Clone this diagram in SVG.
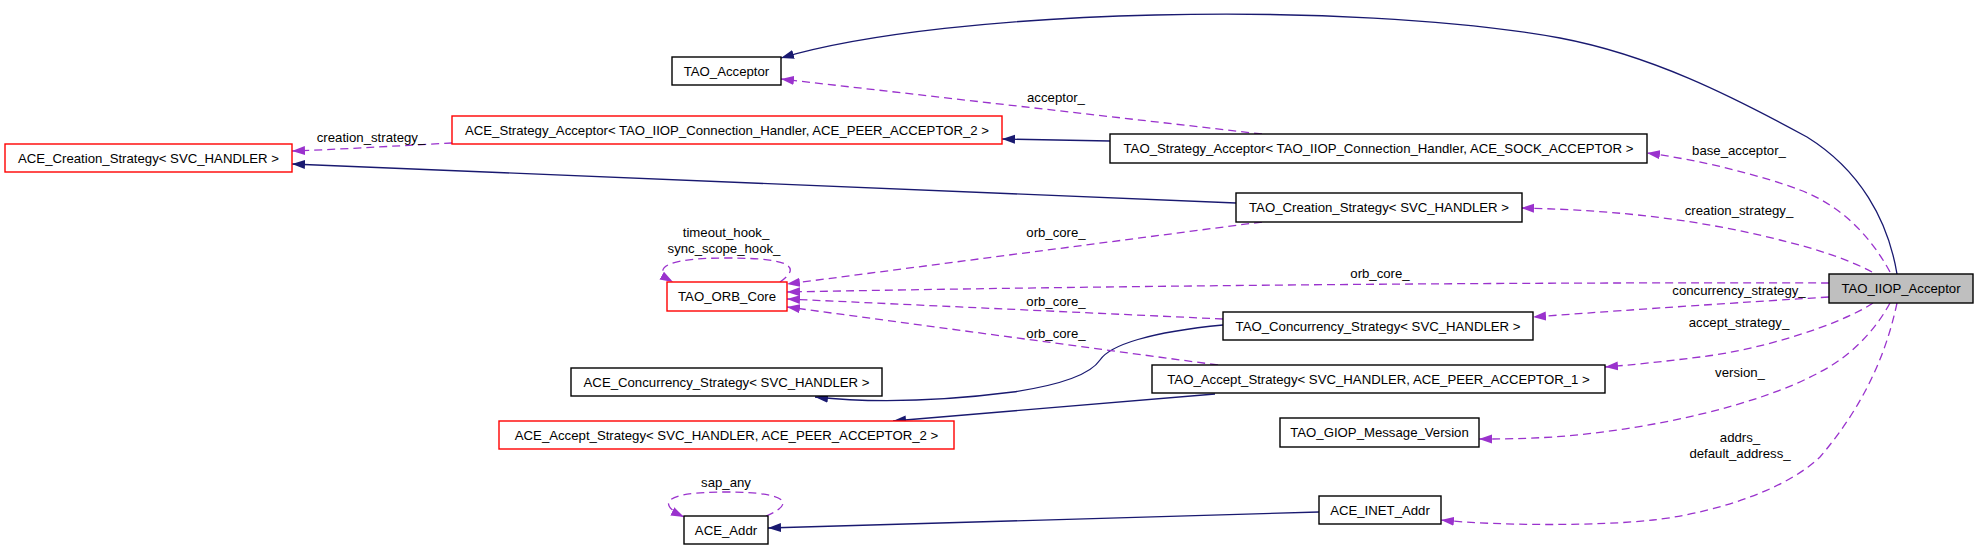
<svg xmlns="http://www.w3.org/2000/svg" width="1979" height="550" viewBox="0 0 1979 550">
<style>
  .box { fill: #ffffff; stroke: #000000; stroke-width: 1.4; }
  .red { fill: #ffffff; stroke: #ff0000; stroke-width: 1.4; }
  .gray { fill: #bfbfbf; stroke: #000000; stroke-width: 1.4; }
  text { font-family: "Liberation Sans", Arial, sans-serif; font-size: 13.2px; fill: #000000; text-anchor: middle; }
  .inh { fill: none; stroke: #191970; stroke-width: 1.3; marker-end: url(#an); }
  .use { fill: none; stroke: #9a32cd; stroke-width: 1.3; stroke-dasharray: 8,5; marker-end: url(#ap); }
</style>
<defs>
  <marker id="an" markerWidth="14" markerHeight="10" refX="13" refY="5" orient="auto" markerUnits="userSpaceOnUse">
    <path d="M0,0.5 L13,5 L0,9.5 z" fill="#191970"/>
  </marker>
  <marker id="ap" markerWidth="14" markerHeight="10" refX="13" refY="5" orient="auto" markerUnits="userSpaceOnUse">
    <path d="M0,0.5 L13,5 L0,9.5 z" fill="#9a32cd"/>
  </marker>
</defs>
<rect width="1979" height="550" fill="#ffffff"/>

<g id="connectors">
  <!-- inheritance -->
  <path class="inh" d="M1897,274 C1888,220 1860,170 1807,137 C1730,95 1650,55 1560,38 C1350,0 950,8 781,58"/>
  <path class="inh" d="M1110,141 L1002,139"/>
  <path class="inh" d="M1236,203 L292,164"/>
  <path class="inh" d="M1223,325 C1150,332 1110,345 1100,360 C1090,375 1060,385 1013,392 C950,400 880,404 815,397"/>
  <path class="inh" d="M1215,394 L893,421"/>
  <path class="inh" d="M1319,512 L768,528"/>
  <!-- usage -->
  <path class="use" d="M1262,134 L781,79"/>
  <path class="use" d="M452,143 C410,145 350,149 292,151"/>
  <path class="use" d="M1890,272 C1870,235 1840,205 1800,190 C1760,175 1700,160 1647,153"/>
  <path class="use" d="M1872,272 C1840,255 1800,245 1780,240 C1700,220 1620,210 1521,208"/>
  <path class="use" d="M1262,222 L787,284"/>
  <path class="use" d="M1829,283 C1500,282 1100,286 787,292"/>
  <path class="use" d="M1223,319 L787,299"/>
  <path class="use" d="M1218,365 L787,307"/>
  <path class="use" d="M1829,297 C1700,305 1600,312 1533,317"/>
  <path class="use" d="M1873,303 C1840,325 1760,350 1700,357 C1660,362 1630,365 1605,367"/>
  <path class="use" d="M1890,303 C1870,340 1840,362 1820,372 C1760,405 1650,430 1553,437 C1520,439 1500,439 1479,439"/>
  <path class="use" d="M1897,303 C1885,360 1860,410 1820,457 C1780,495 1700,515 1653,520 C1600,526 1500,526 1441,520"/>
  <path class="use" d="M780,282 C800,268 795,258 727,258 C660,258 652,270 673,282"/>
  <path class="use" d="M766,516 C795,504 790,492 726,492 C662,492 657,504 684,517"/>
  <!-- labels -->
  <text x="1056" y="101.5">acceptor_</text>
  <text x="371" y="141.5">creation_strategy_</text>
  <text x="1739" y="154.5">base_acceptor_</text>
  <text x="1739" y="214.5">creation_strategy_</text>
  <text x="1056" y="236.5">orb_core_</text>
  <text x="726" y="236.5">timeout_hook_</text>
  <text x="724" y="252.5">sync_scope_hook_</text>
  <text x="1380" y="277.5">orb_core_</text>
  <text x="1739" y="294.5">concurrency_strategy_</text>
  <text x="1056" y="305.5">orb_core_</text>
  <text x="1739" y="326.5">accept_strategy_</text>
  <text x="1056" y="337.5">orb_core_</text>
  <text x="1740" y="376.5">version_</text>
  <text x="1740" y="441.5">addrs_</text>
  <text x="1740" y="457.5">default_address_</text>
  <text x="726" y="486.5">sap_any</text>
</g>

<g id="TAO_IIOP_Acceptor"><rect class="gray" x="1829" y="274" width="144" height="29"/><text x="1901" y="293">TAO_IIOP_Acceptor</text></g>
<g id="TAO_Acceptor"><rect class="box" x="672" y="57" width="109" height="28"/><text x="726.5" y="75.5">TAO_Acceptor</text></g>
<g id="ACE_Strategy_Acceptor"><rect class="red" x="452" y="116" width="550" height="28"/><text x="727" y="134.5">ACE_Strategy_Acceptor&lt; TAO_IIOP_Connection_Handler, ACE_PEER_ACCEPTOR_2 &gt;</text></g>
<g id="TAO_Strategy_Acceptor"><rect class="box" x="1110" y="134" width="537" height="29"/><text x="1378.5" y="153">TAO_Strategy_Acceptor&lt; TAO_IIOP_Connection_Handler, ACE_SOCK_ACCEPTOR &gt;</text></g>
<g id="ACE_Creation_Strategy"><rect class="red" x="5" y="144" width="287" height="28"/><text x="148.5" y="162.5">ACE_Creation_Strategy&lt; SVC_HANDLER &gt;</text></g>
<g id="TAO_Creation_Strategy"><rect class="box" x="1236" y="193" width="286" height="29"/><text x="1379" y="212">TAO_Creation_Strategy&lt; SVC_HANDLER &gt;</text></g>
<g id="TAO_ORB_Core"><rect class="red" x="667" y="282" width="120" height="29"/><text x="727" y="301">TAO_ORB_Core</text></g>
<g id="TAO_Concurrency_Strategy"><rect class="box" x="1223" y="312" width="310" height="28"/><text x="1378" y="330.5">TAO_Concurrency_Strategy&lt; SVC_HANDLER &gt;</text></g>
<g id="ACE_Concurrency_Strategy"><rect class="box" x="571" y="368" width="311" height="28"/><text x="726.5" y="386.5">ACE_Concurrency_Strategy&lt; SVC_HANDLER &gt;</text></g>
<g id="TAO_Accept_Strategy"><rect class="box" x="1152" y="365" width="453" height="28"/><text x="1378.5" y="383.5">TAO_Accept_Strategy&lt; SVC_HANDLER, ACE_PEER_ACCEPTOR_1 &gt;</text></g>
<g id="ACE_Accept_Strategy"><rect class="red" x="499" y="421" width="455" height="28"/><text x="726.5" y="439.5">ACE_Accept_Strategy&lt; SVC_HANDLER, ACE_PEER_ACCEPTOR_2 &gt;</text></g>
<g id="TAO_GIOP_Message_Version"><rect class="box" x="1280" y="418" width="199" height="29"/><text x="1379.5" y="437">TAO_GIOP_Message_Version</text></g>
<g id="ACE_INET_Addr"><rect class="box" x="1319" y="496" width="122" height="28"/><text x="1380" y="514.5">ACE_INET_Addr</text></g>
<g id="ACE_Addr"><rect class="box" x="684" y="516" width="84" height="28"/><text x="726" y="534.5">ACE_Addr</text></g>
</svg>
